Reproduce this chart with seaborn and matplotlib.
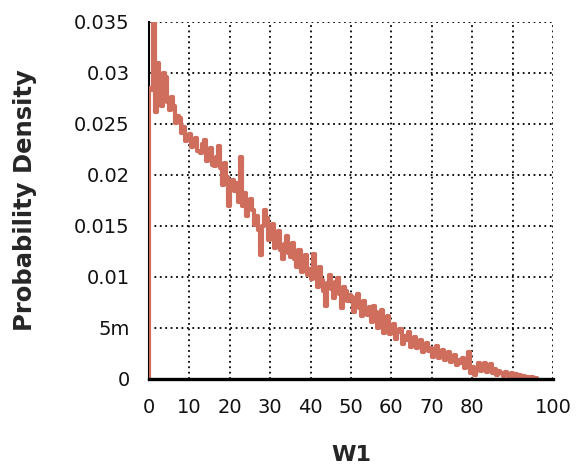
import numpy as np
import pandas as pd
import matplotlib
matplotlib.use("Agg")
import matplotlib.pyplot as plt
import seaborn as sns

# Histogram-style density estimate of W1, one value per half-unit bin starting at 0
bin_width = 0.5
density = [
    0.0285, 0.0283, 0.0370, 0.0262, 0.0310, 0.0292, 0.0268, 0.0300, 0.0296, 0.0272,
    0.0264, 0.0276, 0.0268, 0.0251, 0.0258, 0.0256, 0.0241, 0.0247, 0.0233, 0.0238,
    0.0240, 0.0227, 0.0232, 0.0236, 0.0224, 0.0222, 0.0230, 0.0234, 0.0214, 0.0218,
    0.0226, 0.0210, 0.0209, 0.0218, 0.0228, 0.0207, 0.0190, 0.0212, 0.0198, 0.0170,
    0.0186, 0.0195, 0.0184, 0.0192, 0.0174, 0.0218, 0.0170, 0.0182, 0.0160, 0.0167,
    0.0176, 0.0166, 0.0151, 0.0160, 0.0146, 0.0122, 0.0150, 0.0166, 0.0158, 0.0136,
    0.0147, 0.0152, 0.0128, 0.0138, 0.0145, 0.0126, 0.0118, 0.0132, 0.0140, 0.0124,
    0.0120, 0.0133, 0.0118, 0.0110, 0.0126, 0.0105, 0.0112, 0.0122, 0.0102, 0.0108,
    0.0098, 0.0123, 0.0106, 0.0090, 0.0110, 0.0097, 0.0086, 0.0072, 0.0094, 0.0102,
    0.0088, 0.0079, 0.0095, 0.0099, 0.0083, 0.0070, 0.0090, 0.0086, 0.0076, 0.0082,
    0.0080, 0.0066, 0.0073, 0.0083, 0.0070, 0.0062, 0.0076, 0.0067, 0.0063, 0.0071,
    0.0056, 0.0072, 0.0066, 0.0050, 0.0060, 0.0068, 0.0045, 0.0052, 0.0062, 0.0044,
    0.0048, 0.0054, 0.0039, 0.0046, 0.0049, 0.0034, 0.0042, 0.0038, 0.0046, 0.0031,
    0.0036, 0.0041, 0.0030, 0.0034, 0.0038, 0.0026, 0.0032, 0.0035, 0.0027, 0.0030,
    0.0022, 0.0029, 0.0032, 0.0021, 0.0025, 0.0028, 0.0019, 0.0023, 0.0026, 0.0017,
    0.0020, 0.0024, 0.0014, 0.0019, 0.0016, 0.0021, 0.0011, 0.0015, 0.0026, 0.0006,
    0.0012, 0.0004, 0.0010, 0.0016, 0.0008, 0.0013, 0.0016, 0.0007, 0.0012, 0.0015,
    0.0006, 0.0010, 0.0004, 0.0008, 0.0006, 0.0003, 0.0007, 0.0004, 0.0002, 0.0006,
    0.0003, 0.0005, 0.0001, 0.0004, 0.0002, 0.0003, 0.0001, 0.0002, 0.0001, 0.0002,
    0.0001, 0.0001,
]

x_ticks = [0, 10, 20, 30, 40, 50, 60, 70, 80, 90, 100]
x_tick_labels = ["0", "10", "20", "30", "40", "50", "60", "70", "80", "", "100"]
y_ticks = [0, 0.005, 0.01, 0.015, 0.02, 0.025, 0.03, 0.035]
y_tick_labels = ["0", "5m", "0.01", "0.015", "0.02", "0.025", "0.03", "0.035"]

# Step outline: rise from zero at the left edge, one step per bin, drop at the end
n = len(density)
edges = np.arange(n + 1) * bin_width
step_x = np.concatenate([[0.0], edges])
step_y = np.concatenate([[0.0], density, [0.0]])
df = pd.DataFrame({"W1": step_x, "Probability Density": step_y})

sns.set_style("white")
plt.rcParams["font.family"] = ["DejaVu Sans"]

fig = plt.figure(figsize=(5.76, 4.66), dpi=100)
ax = fig.add_axes([0.2587, 0.1867, 0.7014, 0.7661])

sns.lineplot(data=df, x="W1", y="Probability Density", ax=ax,
             estimator=None, sort=False, drawstyle="steps-post",
             color="#D06E5E", linewidth=3.0, zorder=3)

ax.set_xlim(0, 100)
ax.set_ylim(0, 0.035)
ax.set_xticks(x_ticks)
ax.set_xticklabels(x_tick_labels)
ax.set_yticks(y_ticks)
ax.set_yticklabels(y_tick_labels)

ax.grid(True, color="black", linestyle=(0, (1, 2)), linewidth=1.3)
ax.set_axisbelow(True)

for side in ("top", "right"):
    ax.spines[side].set_visible(False)
ax.spines["left"].set_color("black")
ax.spines["left"].set_linewidth(1.5)
ax.spines["bottom"].set_color("black")
ax.spines["bottom"].set_linewidth(2.4)
ax.spines["bottom"].set_zorder(4)

ax.tick_params(axis="both", direction="out", length=6, width=1.1,
               color="black", labelsize=14, labelcolor="#111111", pad=8)

ax.set_xlabel("W1", fontsize=16, fontweight="bold")
ax.set_ylabel("Probability Density", fontsize=17.5, fontweight="bold")
ax.xaxis.set_label_coords(0.5, -0.185)
ax.yaxis.set_label_coords(-0.277, 0.5)

fig.savefig("out.png", dpi=100, facecolor="white")
